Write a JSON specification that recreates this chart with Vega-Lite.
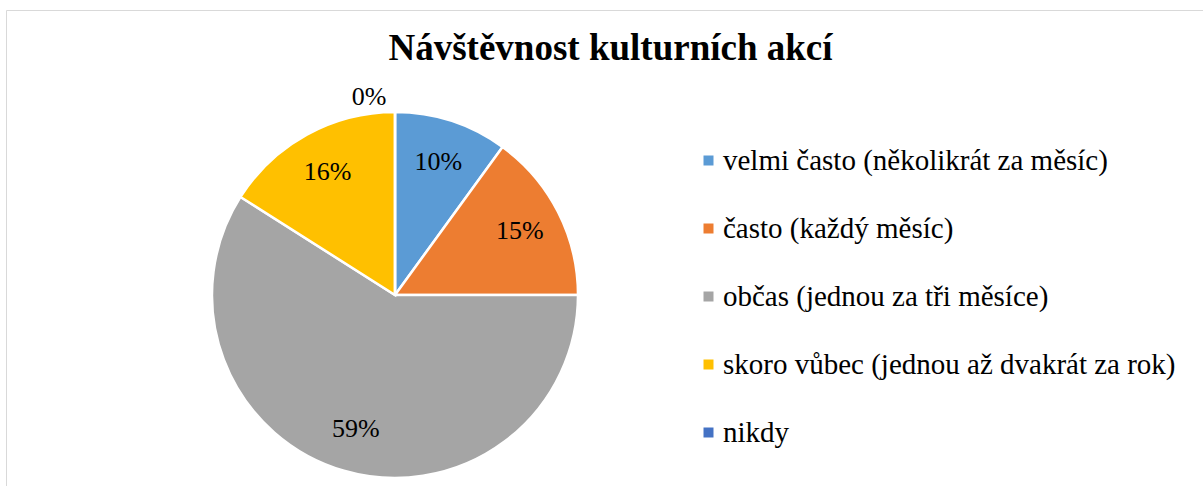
{
  "$schema": "https://vega.github.io/schema/vega-lite/v6.json",
  "width": 1203,
  "height": 486,
  "autosize": {"type": "fit", "contains": "padding"},
  "padding": {"left": 6, "top": 10, "right": 0, "bottom": 0},
  "background": "white",
  "view": {"stroke": "#d9d9d9", "strokeWidth": 1, "fill": "white"},
  "config": {
    "font": "Liberation Serif"
  },
  "title": {
    "text": "Návštěvnost kulturních akcí",
    "font": "Liberation Serif",
    "fontSize": 37,
    "fontWeight": "bold",
    "color": "#000000",
    "anchor": "middle",
    "frame": "group",
    "baseline": "alphabetic",
    "offset": -87,
    "dx": 6
  },
  "data": {
    "values": [
      {"kategorie": "velmi často (několikrát za měsíc)", "podil": 0.10, "poradi": 1},
      {"kategorie": "často (každý měsíc)", "podil": 0.15, "poradi": 2},
      {"kategorie": "občas (jednou za tři měsíce)", "podil": 0.59, "poradi": 3},
      {"kategorie": "skoro vůbec (jednou až dvakrát za rok)", "podil": 0.16, "poradi": 4},
      {"kategorie": "nikdy", "podil": 0.0, "poradi": 5}
    ]
  },
  "encoding": {
    "theta": {"field": "podil", "type": "quantitative", "stack": true},
    "order": {"field": "poradi", "type": "quantitative"}
  },
  "layer": [
    {
      "mark": {"type": "arc", "outerRadius": 183, "x": 389, "y": 285, "stroke": "white", "strokeWidth": 2.5},
      "encoding": {
        "color": {
          "field": "kategorie",
          "type": "nominal",
          "scale": {
            "domain": ["velmi často (několikrát za měsíc)", "často (každý měsíc)", "občas (jednou za tři měsíce)", "skoro vůbec (jednou až dvakrát za rok)", "nikdy"],
            "range": ["#5B9BD5", "#ED7D31", "#A5A5A5", "#FFC000", "#4472C4"]
          },
          "legend": {
            "title": null,
            "orient": "none",
            "legendX": 688,
            "legendY": 136,
            "padding": 0,
            "symbolType": "square",
            "symbolSize": 100,
            "symbolStrokeWidth": 0,
            "labelFont": "Liberation Serif",
            "labelFontSize": 29,
            "labelColor": "#000000",
            "labelOffset": 0,
            "labelLimit": 600,
            "rowPadding": 38
          }
        }
      }
    },
    {
      "transform": [{"filter": "datum.podil > 0"}],
      "mark": {"type": "text", "radius": 140, "x": 389, "y": 285, "font": "Liberation Serif", "fontSize": 26, "color": "#000000", "baseline": "middle", "align": "center"},
      "encoding": {
        "text": {"field": "podil", "type": "quantitative", "format": ".0%"}
      }
    },
    {
      "transform": [{"filter": "datum.podil == 0"}],
      "mark": {"type": "text", "radius": 198, "x": 389, "y": 285, "dx": -26, "font": "Liberation Serif", "fontSize": 26, "color": "#000000", "baseline": "middle", "align": "center"},
      "encoding": {
        "text": {"field": "podil", "type": "quantitative", "format": ".0%"}
      }
    }
  ]
}
